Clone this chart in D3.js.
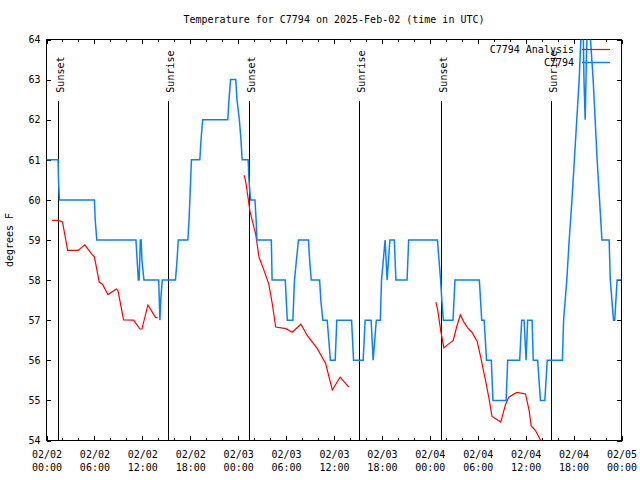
<!DOCTYPE html>
<html>
<head>
<meta charset="utf-8">
<script src="https://cdn.jsdelivr.net/npm/d3@7"></script>
<style>
  html, body { margin: 0; padding: 0; background: #fff; }
  svg { display: block; }
  text { font-family: "DejaVu Sans Mono", "Liberation Mono", monospace; font-size: 10px; fill: #000; }
</style>
</head>
<body>
<svg id="chart" width="640" height="480"></svg>
<script>
// ---------------- data (hours after 2025-02-02 00:00 UTC) ----------------
const chartTitle = "Temperature for C7794 on 2025-Feb-02 (time in UTC)";
const yLabel = "degrees F";
const seriesNames = ["C7794 Analysis", "C7794"];
const seriesColors = ["#ff0000", "#0a80ff"];

const yTicks = [54, 55, 56, 57, 58, 59, 60, 61, 62, 63, 64];
const majorTickHours = [0, 6, 12, 18, 24, 30, 36, 42, 48, 54, 60, 66, 72];

const sunEventHours = [1.45, 15.22, 25.37, 39.14, 49.41, 63.18];
const sunEventLabels = ["Sunset", "Sunrise", "Sunset", "Sunrise", "Sunset", "Sunrise"];
const sunLineTop = 62.5;

// Observations (C7794)
const obsHours = [0,1.45,1.5,1.62,6.0,6.1,6.3,11.2,11.35,11.5,11.6,11.75,11.85,11.95,12.2,14.05,14.2,14.3,14.5,
  16.15,16.35,16.5,17.7,17.85,17.95,18.05,18.15,19.2,19.35,19.55,22.7,22.85,23.05,23.7,23.85,24.15,24.35,24.5,
  25.25,25.35,25.55,26.1,26.25,26.35,28.15,28.25,29.9,30.15,30.85,31.05,31.3,31.55,32.8,32.95,33.15,34.2,34.35,34.6,
  35.15,35.35,35.55,36.15,36.35,38.2,38.45,39.65,39.9,40.65,40.9,41.3,41.8,41.95,42.4,42.65,43.0,43.55,43.75,
  45.15,45.35,48.95,49.15,49.35,49.5,49.7,50.9,51.15,54.2,54.5,54.8,55.1,55.7,55.9,57.55,57.75,59.25,59.5,
  59.8,60.05,60.25,60.8,60.95,61.5,61.85,62.4,62.7,64.6,64.75,65.15,65.45,65.8,66.1,66.4,66.7,66.95,67.15,
  67.3,67.45,67.6,67.8,68.05,68.45,68.7,68.95,69.25,69.55,70.45,70.6,71.0,71.15,71.45,72];
const obsTemps = [61,61,60.5,60,60,59.5,59,59,58.5,58,58,59,59,58.5,58,58,57,57.5,58,
  58,58.5,59,59,59.5,60,60.5,61,61,61.5,62,62,62.5,63,63,62.5,62,61.5,61,
  61,60.5,60,60,59.5,59,59,58,58,57,57,58,58.5,59,59,58.5,58,58,57.5,57,
  57,56.5,56,56,57,57,56,56,57,57,56,57,57,58,59,58,59,59,58,
  58,59,59,58.5,58,57.5,57,57,58,58,57,57,56,56,55,55,56,56,57,
  57,56,57,57,56,56,55,55,56,56,57,58,59,60,61,62,63,64.2,65,
  63,62,63.5,65,64.2,63,62,61,60,59,59,58,57,57,58,58];

// Analysis (C7794 Analysis); null marks a gap between runs
const analysisHours = [0.7,1.4,2.0,2.65,3.95,4.8,5.7,6.0,6.6,7.0,7.7,8.75,8.95,9.65,10.9,11.7,11.95,12.7,13.65,13.9,
  null,
  24.77,24.99,25.49,26.19,26.61,27.02,27.84,28.27,28.7,29.95,30.78,31.85,32.65,33.91,34.95,35.79,36.76,37.86,
  null,
  48.76,49.0,49.36,49.76,50.36,50.92,51.36,51.82,52.27,52.77,53.27,53.93,54.37,54.97,55.38,55.78,56.88,57.48,57.88,58.88,59.98,60.43,60.68,61.23,61.93];
const analysisTemps = [59.49,59.49,59.45,58.74,58.74,58.88,58.64,58.58,57.95,57.9,57.64,57.78,57.74,57.01,57.0,56.78,56.78,57.38,57.07,57.06,
  null,
  60.61,60.4,59.7,59.15,58.57,58.36,57.9,57.41,56.83,56.79,56.7,56.9,56.62,56.29,55.92,55.26,55.58,55.33,
  null,
  57.45,57.24,56.74,56.31,56.41,56.49,56.83,57.13,56.95,56.8,56.7,56.47,56.08,55.5,55.08,54.6,54.46,54.9,55.08,55.2,55.16,54.75,54.37,54.25,53.98];

// ---------------- drawing ----------------
const svg = d3.select("#chart");
const W = 640, H = 480;
const L = 46.5, R = 621.5, T = 39.5, B = 440.5;

const startMs = Date.UTC(2025, 1, 2, 0, 0);
const toDate = h => new Date(startMs + h * 3600e3);

const x = d3.scaleUtc().domain([toDate(0), toDate(72)]).range([L, R]);
const y = d3.scaleLinear().domain([54, 64]).range([B, T]);

svg.append("rect").attr("width", W).attr("height", H).attr("fill", "#fff");

svg.append("defs").append("clipPath").attr("id", "plotclip")
  .append("rect").attr("x", L).attr("y", T).attr("width", R - L).attr("height", B - T);

const majorDates = majorTickHours.map(toDate);
const minorDates = d3.range(0, 73, 2).filter(h => h % 6 !== 0).map(toDate);

const fmtDate = d3.utcFormat("%m/%d");
const fmtTime = d3.utcFormat("%H:%M");

// bottom axis (major with labels)
const gB = svg.append("g").attr("transform", `translate(0,${B})`)
  .call(d3.axisBottom(x).tickValues(majorDates).tickSizeInner(-4.5).tickSizeOuter(0).tickFormat(""));
gB.selectAll(".tick").append("text")
  .attr("text-anchor", "middle")
  .each(function(d) {
    const t = d3.select(this);
    t.append("tspan").attr("x", 0).attr("y", 17).text(fmtDate(d));
    t.append("tspan").attr("x", 0).attr("y", 30).text(fmtTime(d));
  });
svg.append("g").attr("transform", `translate(0,${B})`)
  .call(d3.axisBottom(x).tickValues(minorDates).tickSizeInner(-2.5).tickSizeOuter(0).tickFormat(""));
// top axis mirror
svg.append("g").attr("transform", `translate(0,${T})`)
  .call(d3.axisTop(x).tickValues(majorDates).tickSizeInner(-4.5).tickSizeOuter(0).tickFormat(""));
svg.append("g").attr("transform", `translate(0,${T})`)
  .call(d3.axisTop(x).tickValues(minorDates).tickSizeInner(-2.5).tickSizeOuter(0).tickFormat(""));
// left axis
svg.append("g").attr("transform", `translate(${L},0)`)
  .call(d3.axisLeft(y).tickValues(yTicks).tickSizeInner(-4.5).tickSizeOuter(0).tickPadding(6).tickFormat(d3.format("d")));
// right axis mirror
svg.append("g").attr("transform", `translate(${R},0)`)
  .call(d3.axisRight(y).tickValues(yTicks).tickSizeInner(-4.5).tickSizeOuter(0).tickFormat(""));

svg.selectAll(".domain").remove();
svg.selectAll(".tick line").attr("stroke", "#000").attr("shape-rendering", "crispEdges");
svg.selectAll(".tick text").attr("font-family", null).attr("font-size", null).attr("fill", "#000");
svg.selectAll("g").attr("font-family", null).attr("font-size", null);

// frame
svg.append("rect").attr("x", L).attr("y", T).attr("width", R - L).attr("height", B - T)
  .attr("fill", "none").attr("stroke", "#000").attr("stroke-width", 1).attr("shape-rendering", "crispEdges");

// sun events
const sunG = svg.append("g");
sunEventHours.forEach((h, i) => {
  const sx = Math.round(x(toDate(h)) - 0.5) + 0.5;
  sunG.append("line").attr("x1", sx).attr("x2", sx).attr("y1", Math.round(y(sunLineTop)) + 0.5).attr("y2", B)
    .attr("stroke", "#000").attr("stroke-width", 1).attr("shape-rendering", "crispEdges");
  sunG.append("text").attr("transform", `translate(${sx + 5},${y(sunLineTop) - 7}) rotate(-90)`)
    .attr("text-anchor", "start").text(sunEventLabels[i]);
});

// lines
const plotG = svg.append("g").attr("clip-path", "url(#plotclip)");

const obsData = obsHours.map((h, i) => ({ t: toDate(h), v: obsTemps[i] }));
const anaData = analysisHours.map((h, i) => ({ t: h === null ? null : toDate(h), v: analysisTemps[i] }));

const line = d3.line().defined(d => d.t !== null && d.v !== null).x(d => x(d.t)).y(d => y(d.v));

plotG.append("path").datum(anaData).attr("d", line)
  .attr("fill", "none").attr("stroke", seriesColors[0]).attr("stroke-width", 1.2).attr("stroke-linejoin", "miter");
plotG.append("path").datum(obsData).attr("d", line)
  .attr("fill", "none").attr("stroke", seriesColors[1]).attr("stroke-width", 1.5).attr("stroke-linejoin", "miter");

// legend
const legRows = [49.5, 62.5];
seriesNames.forEach((name, i) => {
  svg.append("text").attr("x", 574).attr("y", legRows[i] + 3.5).attr("text-anchor", "end").text(name);
  svg.append("line").attr("x1", 582).attr("x2", 610).attr("y1", legRows[i]).attr("y2", legRows[i])
    .attr("stroke", seriesColors[i]).attr("stroke-width", i === 0 ? 1.2 : 1.5);
});

// title and y label
svg.append("text").attr("x", (L + R) / 2).attr("y", 23).attr("text-anchor", "middle").text(chartTitle);
svg.append("text").attr("transform", `translate(13,${(T + B) / 2}) rotate(-90)`)
  .attr("text-anchor", "middle").text(yLabel);
</script>
</body>
</html>
